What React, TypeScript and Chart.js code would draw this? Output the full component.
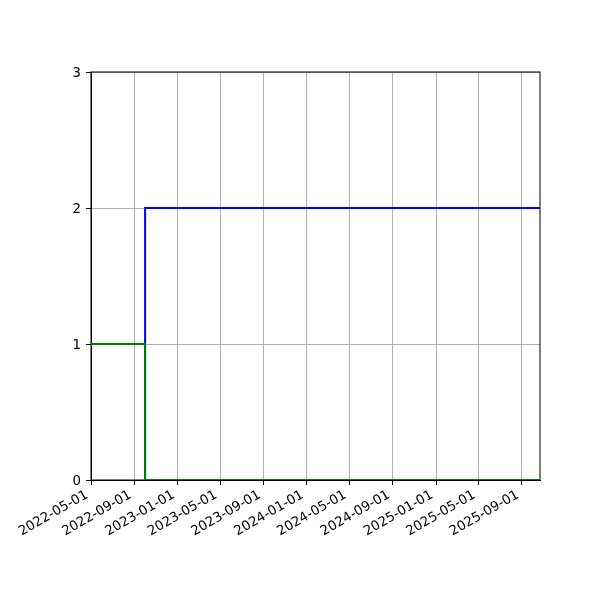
import { useEffect, useRef } from 'react'
import { Chart, registerables } from 'chart.js'

Chart.register(...registerables)

// step data: each value holds until the next date
const greenDates = ['2022-05-01', '2022-10-01', '2025-10-22']
const greenValues = [1, 0, 0]
const blueDates = ['2022-10-01', '2022-10-01', '2025-10-22']
const blueValues = [0, 2, 2]

const xMinDate = '2022-05-01'
const xMaxDate = '2025-10-22'
const xTickDates = [
  '2022-05-01', '2022-09-01', '2023-01-01', '2023-05-01', '2023-09-01', '2024-01-01',
  '2024-05-01', '2024-09-01', '2025-01-01', '2025-05-01', '2025-09-01',
]
const yTicks = [0, 1, 2, 3]

const toMs = (d: string) => Date.parse(d + 'T00:00:00Z')
const fmt = (ms: number) => new Date(ms).toISOString().slice(0, 10)

const FONT = { family: '"DejaVu Sans", sans-serif', size: 13.33 }

// matplotlib-like box around the axes
const frame = {
  id: 'frame',
  beforeDatasetsDraw(chart: Chart) {
    const { ctx, chartArea: a } = chart
    ctx.save()
    ctx.strokeStyle = '#000'
    ctx.lineWidth = 1
    ctx.strokeRect(a.left, a.top, a.right - a.left, a.bottom - a.top)
    ctx.restore()
  },
}

export default function App() {
  const canvasRef = useRef<HTMLCanvasElement>(null)

  useEffect(() => {
    document.body.style.margin = '0'
    if (!canvasRef.current) return
    // each value lasts until the next point: horizontal then vertical
    const chart = new Chart(canvasRef.current, {
      type: 'line',
      data: {
        datasets: [
          {
            label: 'green',
            data: greenDates.map((d, i) => ({ x: toMs(d), y: greenValues[i] })),
            borderColor: '#008000',
            borderWidth: 2,
            pointRadius: 0,
            stepped: 'before',
          },
          {
            label: 'blue',
            data: blueDates.map((d, i) => ({ x: toMs(d), y: blueValues[i] })),
            borderColor: '#0000ff',
            borderWidth: 2,
            pointRadius: 0,
            stepped: 'before',
          },
        ],
      },
      options: {
        animation: false,
        responsive: false,
        layout: { padding: { left: 0, top: 72, right: 60, bottom: 0 } },
        plugins: { legend: { display: false }, tooltip: { enabled: false } },
        scales: {
          x: {
            type: 'linear',
            min: toMs(xMinDate),
            max: toMs(xMaxDate),
            afterBuildTicks: (scale: any) => {
              scale.ticks = xTickDates.map(d => ({ value: toMs(d) }))
            },
            afterFit: (scale: any) => {
              scale.height = 120
            },
            ticks: {
              callback: (v: any) => fmt(Number(v)),
              color: '#000',
              font: FONT,
              minRotation: 30,
              maxRotation: 30,
              padding: 2,
              labelOffset: -4,
              autoSkip: false,
            },
            grid: { color: '#b0b0b0', tickColor: '#000', tickLength: 5, lineWidth: 1 },
            border: { color: '#000', width: 1 },
          },
          y: {
            min: 0,
            max: 3,
            afterBuildTicks: (scale: any) => {
              scale.ticks = yTicks.map(v => ({ value: v }))
            },
            afterFit: (scale: any) => {
              scale.width = 91
            },
            ticks: { color: '#000', font: FONT, padding: 5, labelOffset: 2, callback: (v: any) => String(v) },
            grid: { color: '#b0b0b0', tickColor: '#000', tickLength: 5, lineWidth: 1 },
            border: { color: '#000', width: 1 },
          },
        },
      },
      plugins: [frame],
    })
    return () => chart.destroy()
  }, [])

  return (
    <div style={{ width: 600, height: 600, background: '#fff' }}>
      <canvas ref={canvasRef} width={600} height={600} />
    </div>
  )
}
